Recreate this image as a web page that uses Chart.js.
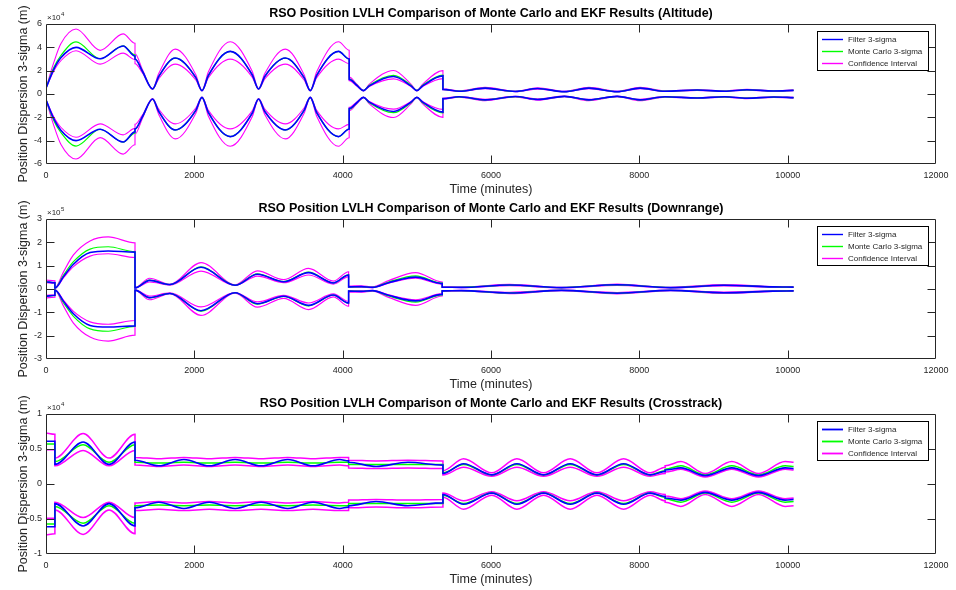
<!DOCTYPE html>
<html>
<head>
<meta charset="utf-8">
<script src="https://cdn.jsdelivr.net/npm/chart.js@4.4.0/dist/chart.umd.min.js"></script>
<style>
html, body { margin: 0; padding: 0; background: #ffffff; }
#wrap { position: relative; width: 956px; height: 590px; overflow: hidden; background: #ffffff; }
.pane { position: absolute; left: 0; width: 956px; height: 200px; }
canvas { display: block; }
</style>
</head>
<body>
<div id="wrap">
  <div class="pane" style="top:0px"><canvas id="c1" width="956" height="200"></canvas></div>
  <div class="pane" style="top:195px"><canvas id="c2" width="956" height="200"></canvas></div>
  <div class="pane" style="top:390px"><canvas id="c3" width="956" height="200"></canvas></div>
</div>
<script>
// ---------- tick labels ----------
const xTickValues = [0, 2000, 4000, 6000, 8000, 10000, 12000];
const altYTicks = [-6, -4, -2, 0, 2, 4, 6];          // x10^4 m
const downYTicks = [-3, -2, -1, 0, 1, 2, 3];         // x10^5 m
const crossYTicks = [-1, -0.5, 0, 0.5, 1];           // x10^4 m
const legendLabels = ['Filter 3-sigma', 'Monte Carlo 3-sigma', 'Confidence Interval'];

// ---------- Altitude (units of 1e4 m, +3-sigma side; lower side is the mirror) ----------
const altTime = [0, 100, 200, 405, 730, 1040, 1200, 1200, 1300, 1437, 1520, 1743, 2020, 2103, 2190, 2484, 2780, 2866, 2950, 3226, 3480, 3563, 3650, 3944, 4088, 4088, 4190, 4281, 4360, 4686, 4920, 5001, 5080, 5352, 5352, 5570, 5920, 6327, 6630, 6990, 7320, 7700, 8010, 8345, 8780, 9150, 9451, 9810, 10080];
const altFilter = [0.5, 2.05, 3.1, 4.0, 3.02, 4.12, 3.25, 3.0, 1.95, 0.43, 1.5, 3.08, 1.4, 0.29, 1.6, 3.65, 1.65, 0.43, 1.5, 3.08, 1.4, 0.29, 1.6, 3.65, 3.0, 1.25, 0.75, 0.29, 0.7, 1.5, 0.7, 0.29, 0.7, 1.55, 0.4, 0.24, 0.5, 0.22, 0.47, 0.2, 0.5, 0.2, 0.5, 0.24, 0.34, 0.24, 0.36, 0.26, 0.31];
const altMonteCarlo = [0.5, 2.2, 3.3, 4.46, 3.02, 4.12, 3.35, 3.0, 1.95, 0.43, 1.5, 3.08, 1.4, 0.29, 1.6, 3.65, 1.65, 0.43, 1.5, 3.08, 1.4, 0.29, 1.6, 3.65, 3.0, 1.3, 0.77, 0.29, 0.75, 1.6, 0.75, 0.29, 0.75, 1.62, 0.4, 0.24, 0.5, 0.22, 0.47, 0.2, 0.5, 0.2, 0.5, 0.24, 0.34, 0.24, 0.36, 0.26, 0.31];
const altCIOuter = [0.5, 2.6, 4.3, 5.57, 3.74, 5.15, 4.35, 3.45, 2.1, 0.46, 1.75, 3.85, 1.65, 0.31, 1.9, 4.48, 1.95, 0.46, 1.75, 3.85, 1.65, 0.31, 1.9, 4.48, 3.75, 1.45, 0.85, 0.31, 0.85, 2.02, 0.85, 0.31, 0.85, 2.0, 0.45, 0.27, 0.57, 0.25, 0.53, 0.23, 0.57, 0.23, 0.57, 0.27, 0.38, 0.27, 0.4, 0.29, 0.35];
const altCIInner = [0.5, 1.9, 2.85, 3.71, 2.56, 3.5, 2.95, 2.6, 1.8, 0.4, 1.3, 2.56, 1.2, 0.27, 1.4, 2.99, 1.45, 0.4, 1.3, 2.56, 1.2, 0.27, 1.4, 2.99, 2.6, 1.15, 0.68, 0.27, 0.65, 1.3, 0.65, 0.27, 0.65, 1.32, 0.36, 0.22, 0.45, 0.2, 0.42, 0.18, 0.45, 0.18, 0.45, 0.22, 0.31, 0.22, 0.33, 0.24, 0.28];

// ---------- Downrange (units of 1e5 m) ----------
const downTime = [0, 120, 120, 237, 370, 594, 839, 1200, 1200, 1397, 1670, 2090, 2550, 2850, 3205, 3540, 3875, 4080, 4080, 4250, 4403, 4620, 4984, 5342, 5342, 5600, 6250, 6950, 7700, 8420, 9140, 9800, 10080];
const downFilter = [0.31, 0.27, 0.04, 0.53, 1.06, 1.56, 1.63, 1.58, 0.05, 0.37, 0.19, 0.93, 0.16, 0.63, 0.31, 0.7, 0.26, 0.6, 0.09, 0.1, 0.07, 0.27, 0.51, 0.23, 0.08, 0.07, 0.17, 0.06, 0.18, 0.06, 0.16, 0.09, 0.08];
const downMonteCarlo = [0.31, 0.27, 0.04, 0.6, 1.17, 1.71, 1.81, 1.6, 0.05, 0.38, 0.19, 0.95, 0.16, 0.65, 0.32, 0.72, 0.26, 0.61, 0.09, 0.1, 0.07, 0.3, 0.56, 0.25, 0.08, 0.07, 0.17, 0.06, 0.18, 0.06, 0.16, 0.09, 0.08];
const downCIOuter = [0.38, 0.35, 0.05, 0.74, 1.46, 2.06, 2.23, 1.98, 0.06, 0.46, 0.2, 1.13, 0.18, 0.78, 0.4, 0.88, 0.34, 0.74, 0.12, 0.14, 0.09, 0.36, 0.7, 0.3, 0.1, 0.08, 0.2, 0.07, 0.21, 0.07, 0.19, 0.1, 0.09];
const downCIInner = [0.27, 0.25, 0.03, 0.49, 0.96, 1.41, 1.51, 1.35, 0.04, 0.3, 0.17, 0.77, 0.15, 0.55, 0.27, 0.6, 0.21, 0.53, 0.07, 0.08, 0.06, 0.25, 0.46, 0.2, 0.07, 0.06, 0.14, 0.05, 0.15, 0.05, 0.13, 0.08, 0.07];

// ---------- Crosstrack (units of 1e4 m) ----------
const crossTime = [0, 120, 120, 500, 850, 1200, 1200, 1520, 1860, 2200, 2550, 2900, 3260, 3600, 3960, 4080, 4080, 4450, 4880, 5352, 5352, 5630, 6010, 6349, 6709, 7068, 7428, 7788, 8147, 8348, 8348, 8560, 8888, 9247, 9607, 9966, 10080];
const crossFilter = [0.61, 0.61, 0.28, 0.6, 0.28, 0.6, 0.34, 0.26, 0.35, 0.26, 0.35, 0.26, 0.35, 0.26, 0.35, 0.33, 0.31, 0.25, 0.31, 0.27, 0.15, 0.29, 0.13, 0.29, 0.13, 0.29, 0.13, 0.29, 0.13, 0.18, 0.2, 0.23, 0.12, 0.23, 0.12, 0.23, 0.22];
const crossMonteCarlo = [0.57, 0.57, 0.32, 0.56, 0.31, 0.56, 0.31, 0.3, 0.31, 0.3, 0.31, 0.3, 0.31, 0.3, 0.31, 0.31, 0.28, 0.28, 0.28, 0.28, 0.16, 0.28, 0.13, 0.28, 0.13, 0.28, 0.13, 0.28, 0.13, 0.19, 0.21, 0.26, 0.13, 0.26, 0.13, 0.26, 0.25];
const crossCIOuter = [0.73, 0.71, 0.37, 0.72, 0.37, 0.71, 0.38, 0.36, 0.38, 0.36, 0.38, 0.36, 0.38, 0.36, 0.38, 0.38, 0.34, 0.33, 0.34, 0.33, 0.19, 0.36, 0.16, 0.36, 0.16, 0.36, 0.16, 0.36, 0.16, 0.24, 0.26, 0.32, 0.15, 0.32, 0.15, 0.32, 0.31];
const crossCIInner = [0.49, 0.49, 0.26, 0.48, 0.26, 0.48, 0.27, 0.25, 0.27, 0.25, 0.27, 0.25, 0.27, 0.25, 0.27, 0.26, 0.23, 0.22, 0.23, 0.22, 0.13, 0.24, 0.11, 0.24, 0.11, 0.24, 0.11, 0.24, 0.11, 0.15, 0.17, 0.21, 0.1, 0.21, 0.1, 0.21, 0.2];

// ---------- styling ----------
const FONT = "'Liberation Sans', Arial, Helvetica, sans-serif";
const INK = '#262626';
const BLUE = '#0000ff', GREEN = '#00ff00', MAGENTA = '#ff00ff';

function makeSeries(time, filt, mc, ciOut, ciIn, w) {
  const pts = (vals, s) => time.map((t, i) => ({ x: t, y: s * vals[i] }));
  const base = { pointRadius: 0, pointHoverRadius: 0, fill: false, cubicInterpolationMode: 'monotone' };
  return [
    { ...base, label: legendLabels[0], inLegend: true, data: pts(filt, 1), borderColor: BLUE, borderWidth: w[0] },
    { ...base, label: legendLabels[0], data: pts(filt, -1), borderColor: BLUE, borderWidth: w[0] },
    { ...base, label: legendLabels[1], inLegend: true, data: pts(mc, 1), borderColor: GREEN, borderWidth: w[1] },
    { ...base, label: legendLabels[1], data: pts(mc, -1), borderColor: GREEN, borderWidth: w[1] },
    { ...base, label: legendLabels[2], inLegend: true, data: pts(ciOut, 1), borderColor: MAGENTA, borderWidth: w[2] },
    { ...base, label: legendLabels[2], data: pts(ciIn, 1), borderColor: MAGENTA, borderWidth: w[2] },
    { ...base, label: legendLabels[2], data: pts(ciOut, -1), borderColor: MAGENTA, borderWidth: w[2] },
    { ...base, label: legendLabels[2], data: pts(ciIn, -1), borderColor: MAGENTA, borderWidth: w[2] }
  ];
}

function framePlugin(cfg) {
  return {
    id: 'matlabFrame',
    afterDraw(chart) {
      const { ctx, chartArea: a } = chart;
      const xs = chart.scales.x, ys = chart.scales.y;
      const L = Math.round(a.left) + 0.5, R = Math.round(a.right) - 0.5;
      const T = Math.round(a.top) + 0.5, B = Math.round(a.bottom) - 0.5;
      const tl = 8;
      ctx.save();
      ctx.strokeStyle = INK;
      ctx.lineWidth = 1;
      ctx.beginPath();
      ctx.rect(L, T, R - L, B - T);
      xTickValues.forEach(v => {
        const px = Math.round(xs.getPixelForValue(v)) + 0.5;
        if (px <= L + 1 || px >= R - 1) return;
        ctx.moveTo(px, B); ctx.lineTo(px, B - tl);
        ctx.moveTo(px, T); ctx.lineTo(px, T + tl);
      });
      cfg.yTicks.forEach(v => {
        const py = Math.round(ys.getPixelForValue(v)) + 0.5;
        if (py <= T + 1 || py >= B - 1) return;
        ctx.moveTo(L, py); ctx.lineTo(L + tl, py);
        ctx.moveTo(R, py); ctx.lineTo(R - tl, py);
      });
      ctx.stroke();

      // exponent label
      ctx.fillStyle = INK;
      ctx.textBaseline = 'alphabetic';
      ctx.textAlign = 'left';
      ctx.font = '8px ' + FONT;
      const base = '\u00d710';
      ctx.fillText(base, a.left + 1, a.top - 4);
      const bw = ctx.measureText(base).width;
      ctx.font = '6px ' + FONT;
      ctx.fillText(cfg.exponent, a.left + 1 + bw + 0.5, a.top - 8);

      // legend box
      const entries = chart.data.datasets.filter(d => d.inLegend);
      const bxw = 111, bxh = 39;
      const bx = Math.round(a.right) - 119, by = Math.round(a.top) + 7;
      ctx.fillStyle = '#ffffff';
      ctx.fillRect(bx, by, bxw, bxh);
      ctx.strokeStyle = '#000000';
      ctx.lineWidth = 1;
      ctx.strokeRect(bx + 0.5, by + 0.5, bxw, bxh);
      ctx.font = '8px ' + FONT;
      ctx.textBaseline = 'middle';
      entries.forEach((d, i) => {
        const yy = by + 8.5 + i * 12;
        ctx.strokeStyle = d.borderColor;
        ctx.lineWidth = cfg.legendWidth;
        ctx.beginPath();
        ctx.moveTo(bx + 5, yy); ctx.lineTo(bx + 26, yy);
        ctx.stroke();
        ctx.fillStyle = INK;
        ctx.fillText(d.label, bx + 31, yy);
      });
      ctx.restore();
    }
  };
}

function buildChart(id, cfg) {
  return new Chart(document.getElementById(id), {
    type: 'line',
    data: { datasets: makeSeries(cfg.time, cfg.filt, cfg.mc, cfg.ciOut, cfg.ciIn, cfg.widths) },
    options: {
      responsive: false,
      animation: false,
      devicePixelRatio: 1,
      events: [],
      layout: { padding: { left: 0, right: 20, top: 0, bottom: 0 } },
      plugins: {
        legend: { display: false },
        tooltip: { enabled: false },
        title: {
          display: true, text: cfg.title, fullSize: false, color: '#000000',
          font: { family: FONT, size: 12.5, weight: 'bold' },
          padding: { top: 6, bottom: 3 }
        }
      },
      scales: {
        x: {
          type: 'linear', min: 0, max: 12000,
          afterBuildTicks: s => { s.ticks = xTickValues.map(v => ({ value: v })); },
          afterFit: s => { s.height = 36; },
          grid: { display: false, drawTicks: false },
          border: { display: false },
          ticks: { autoSkip: false, maxRotation: 0, padding: 6, color: INK, font: { family: FONT, size: 9 }, callback: v => String(v) },
          title: { display: true, text: 'Time (minutes)', color: INK, font: { family: FONT, size: 12.5 }, padding: { top: 0, bottom: 3 } }
        },
        y: {
          type: 'linear', min: cfg.yTicks[0], max: cfg.yTicks[cfg.yTicks.length - 1],
          afterBuildTicks: s => { s.ticks = cfg.yTicks.map(v => ({ value: v })); },
          afterFit: s => { s.width = 46; },
          grid: { display: false, drawTicks: false },
          border: { display: false },
          ticks: { autoSkip: false, padding: 4, color: INK, font: { family: FONT, size: 9 }, callback: v => String(v) },
          title: { display: true, text: 'Position Dispersion 3-sigma (m)', color: INK, font: { family: FONT, size: 12.5 }, padding: { top: 16.5, bottom: 0 } }
        }
      }
    },
    plugins: [framePlugin(cfg)]
  });
}

buildChart('c1', {
  title: 'RSO Position LVLH Comparison of Monte Carlo and EKF Results (Altitude)',
  time: altTime, filt: altFilter, mc: altMonteCarlo, ciOut: altCIOuter, ciIn: altCIInner,
  yTicks: altYTicks, exponent: '4', widths: [1.6, 1.2, 1.1], legendWidth: 1.4
});
buildChart('c2', {
  title: 'RSO Position LVLH Comparison of Monte Carlo and EKF Results (Downrange)',
  time: downTime, filt: downFilter, mc: downMonteCarlo, ciOut: downCIOuter, ciIn: downCIInner,
  yTicks: downYTicks, exponent: '5', widths: [1.6, 1.2, 1.2], legendWidth: 1.4
});
buildChart('c3', {
  title: 'RSO Position LVLH Comparison of Monte Carlo and EKF Results (Crosstrack)',
  time: crossTime, filt: crossFilter, mc: crossMonteCarlo, ciOut: crossCIOuter, ciIn: crossCIInner,
  yTicks: crossYTicks, exponent: '4', widths: [1.6, 1.5, 1.5], legendWidth: 1.8
});
</script>
</body>
</html>
